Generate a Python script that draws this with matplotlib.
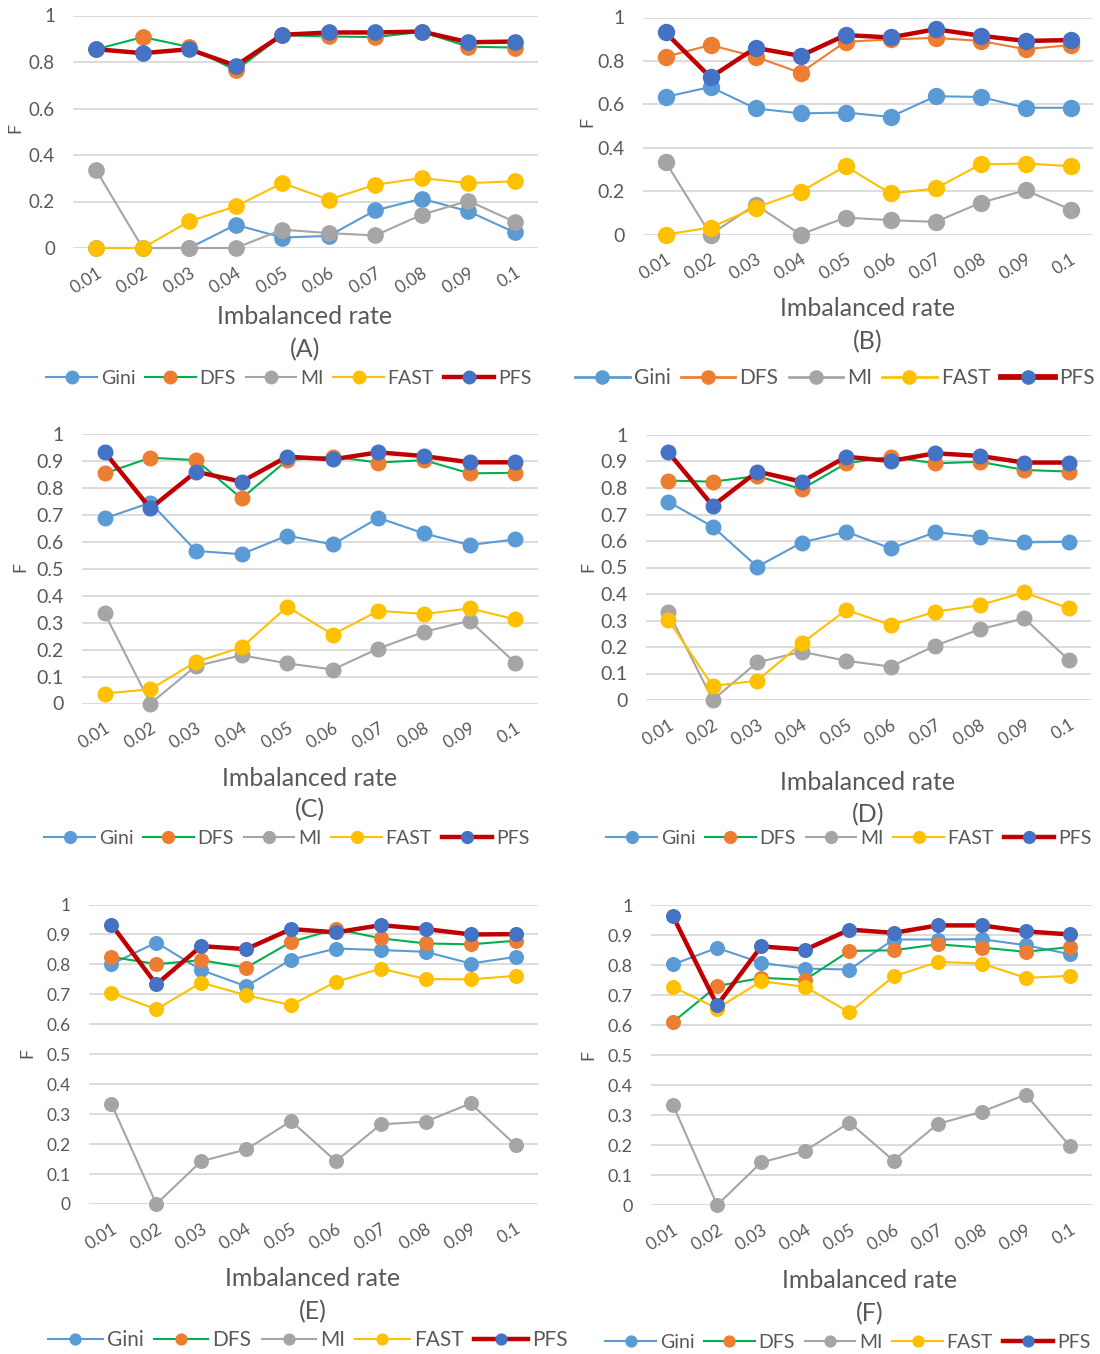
import matplotlib
matplotlib.use('Agg')
import matplotlib.pyplot as plt
from matplotlib.lines import Line2D

plt.rcParams['font.family'] = ['Lato', 'DejaVu Sans']

rates = ['0.01', '0.02', '0.03', '0.04', '0.05', '0.06', '0.07', '0.08', '0.09', '0.1']
methods = ['Gini', 'DFS', 'MI', 'FAST', 'PFS']

# (A)
gini_a = [0, 0, 0, 0.100, 0.045, 0.052, 0.162, 0.212, 0.158, 0.067]
dfs_a = [0.855, 0.907, 0.865, 0.764, 0.915, 0.910, 0.907, 0.930, 0.866, 0.862]
mi_a = [0.334, 0, 0, 0, 0.079, 0.064, 0.054, 0.143, 0.203, 0.112]
fast_a = [0, 0, 0.115, 0.179, 0.279, 0.208, 0.272, 0.301, 0.279, 0.287]
pfs_a = [0.855, 0.838, 0.855, 0.784, 0.917, 0.927, 0.927, 0.931, 0.885, 0.888]

# (B)
gini_b = [0.634, 0.680, 0.581, 0.558, 0.562, 0.542, 0.637, 0.634, 0.584, 0.584]
dfs_b = [0.819, 0.873, 0.819, 0.745, 0.888, 0.899, 0.906, 0.892, 0.854, 0.873]
mi_b = [0.335, 0, 0.138, 0, 0.078, 0.066, 0.058, 0.146, 0.204, 0.115]
fast_b = [0, 0.032, 0.124, 0.197, 0.315, 0.189, 0.212, 0.323, 0.327, 0.315]
pfs_b = [0.931, 0.724, 0.860, 0.823, 0.919, 0.908, 0.946, 0.916, 0.892, 0.896]

# (C)
gini_c = [0.687, 0.745, 0.566, 0.554, 0.623, 0.590, 0.689, 0.631, 0.588, 0.609]
dfs_c = [0.854, 0.912, 0.903, 0.761, 0.903, 0.916, 0.894, 0.903, 0.854, 0.856]
mi_c = [0.334, 0, 0.139, 0.179, 0.149, 0.126, 0.204, 0.266, 0.307, 0.151]
fast_c = [0.037, 0.053, 0.155, 0.208, 0.359, 0.256, 0.344, 0.332, 0.353, 0.312]
pfs_c = [0.932, 0.724, 0.860, 0.823, 0.916, 0.906, 0.932, 0.918, 0.895, 0.895]

# (D)
gini_d = [0.748, 0.654, 0.503, 0.594, 0.635, 0.572, 0.633, 0.616, 0.595, 0.597]
dfs_d = [0.828, 0.824, 0.845, 0.796, 0.893, 0.918, 0.893, 0.899, 0.868, 0.862]
mi_d = [0.333, 0, 0.142, 0.182, 0.148, 0.126, 0.205, 0.267, 0.308, 0.151]
fast_d = [0.302, 0.053, 0.073, 0.214, 0.340, 0.283, 0.333, 0.358, 0.406, 0.346]
pfs_d = [0.935, 0.733, 0.862, 0.824, 0.918, 0.902, 0.931, 0.921, 0.896, 0.896]

# (E)
gini_e = [0.801, 0.873, 0.781, 0.727, 0.816, 0.853, 0.848, 0.842, 0.803, 0.825]
dfs_e = [0.825, 0.801, 0.814, 0.789, 0.875, 0.918, 0.887, 0.870, 0.867, 0.879]
mi_e = [0.334, 0, 0.143, 0.182, 0.277, 0.143, 0.266, 0.275, 0.336, 0.197]
fast_e = [0.705, 0.650, 0.739, 0.697, 0.664, 0.742, 0.786, 0.751, 0.750, 0.762]
pfs_e = [0.933, 0.733, 0.861, 0.851, 0.918, 0.907, 0.931, 0.918, 0.900, 0.901]

# (F)
gini_f = [0.802, 0.857, 0.807, 0.788, 0.785, 0.885, 0.885, 0.886, 0.866, 0.836]
dfs_f = [0.610, 0.730, 0.757, 0.751, 0.847, 0.849, 0.869, 0.858, 0.844, 0.860]
mi_f = [0.333, 0, 0.142, 0.181, 0.275, 0.148, 0.270, 0.311, 0.368, 0.196]
fast_f = [0.727, 0.655, 0.746, 0.727, 0.642, 0.762, 0.810, 0.805, 0.757, 0.764]
pfs_f = [0.962, 0.666, 0.862, 0.851, 0.918, 0.907, 0.932, 0.932, 0.912, 0.902]

TEXT = '#595959'
GRID = '#D9D9D9'
line_colors = {'Gini': '#5B9BD5', 'DFS': '#00B050', 'MI': '#A5A5A5',
               'FAST': '#FFC000', 'PFS': '#C00000'}
marker_colors = {'Gini': '#5B9BD5', 'DFS': '#ED7D31', 'MI': '#A5A5A5',
                 'FAST': '#FFC000', 'PFS': '#4472C4'}
widths = {'Gini': 1.5, 'DFS': 1.5, 'MI': 1.5, 'FAST': 1.5, 'PFS': 3.2}

W, H = 1100, 1354
fig = plt.figure(figsize=(W / 100, H / 100), dpi=100)

# letter, series, box in pixels (left, right, y of 1, y of 0), y step,
# label centre x, xlabel y, letter y, legend centre, F label position,
# marker size, legend font size
panels = [
    ('A', [gini_a, dfs_a, mi_a, fast_a, pfs_a], (73, 538, 15.5, 248), 0.2,
     305, 317, 350, (289, 378), (15, 128), 11, 'DFS_green', 14),
    ('B', [gini_b, dfs_b, mi_b, fast_b, pfs_b], (643, 1093, 17.5, 234.5), 0.2,
     868, 309, 342, (835, 378), (587, 122), 11.5, 'DFS_orange', 15),
    ('C', [gini_c, dfs_c, mi_c, fast_c, pfs_c], (82, 538, 434, 703.5), 0.1,
     310, 778, 810, (287, 838), (20, 567), 10.5, 'DFS_green', 14),
    ('D', [gini_d, dfs_d, mi_d, fast_d, pfs_d], (646, 1091, 435, 700), 0.1,
     868, 783, 815, (849, 838), (588, 567), 10.5, 'DFS_green', 14),
    ('E', [gini_e, dfs_e, mi_e, fast_e, pfs_e], (89, 538, 904.5, 1204), 0.1,
     313, 1279, 1312, (308, 1340), (27, 1053), 9.8, 'DFS_green', 15),
    ('F', [gini_f, dfs_f, mi_f, fast_f, pfs_f], (651, 1092, 905, 1205), 0.1,
     870, 1281, 1314, (848, 1342), (588, 1055), 9.8, 'DFS_green', 14),
]

x = list(range(len(rates)))

for (letter, series, box, step, cx, xl_y, let_y, leg, f_pos, msize,
     dfs_style, leg_size) in panels:
    left, right, top, bottom = box
    ax = fig.add_axes([left / W, 1 - bottom / H, (right - left) / W,
                       (bottom - top) / H])
    handles = []
    for k, (name, vals) in enumerate(zip(methods, series)):
        lc = line_colors[name]
        if name == 'DFS' and dfs_style == 'DFS_orange':
            lc = marker_colors['DFS']
        ax.plot(x, vals, color=lc, lw=widths[name], marker='o',
                markersize=msize, markerfacecolor=marker_colors[name],
                markeredgecolor=marker_colors[name], clip_on=False,
                zorder=3 + k)
        lw_leg = widths[name] * (1.3 if letter == 'B' else 1.0)
        handles.append(Line2D([0], [0], color=lc, lw=lw_leg,
                              marker='o', markersize=msize - 2,
                              markerfacecolor=marker_colors[name],
                              markeredgecolor=marker_colors[name]))

    ax.set_xlim(-0.5, len(rates) - 0.5)
    ax.set_ylim(0, 1)
    n = int(round(1 / step))
    ticks = [round(i * step, 1) for i in range(n + 1)]
    ax.set_yticks(ticks)
    ax.set_yticklabels(['0' if t == 0 else ('1' if t == 1 else f'{t:g}')
                        for t in ticks])
    ax.set_xticks(x)
    ax.set_xticklabels(rates, rotation=32, ha='right', rotation_mode='anchor')
    ax.grid(axis='y', color=GRID, lw=1.3)
    ax.set_axisbelow(True)
    for s in ax.spines.values():
        s.set_visible(False)
    ytick_size = {'A': 13.5, 'B': 14, 'C': 14, 'D': 14,
                  'E': 12.5, 'F': 13}[letter]
    ax.tick_params(axis='y', length=0, pad=13, labelsize=ytick_size,
                   labelcolor=TEXT)
    ax.tick_params(axis='x', length=0, pad=12, labelsize=12.5,
                   labelcolor=TEXT)

    fig.text(cx / W, 1 - xl_y / H, 'Imbalanced rate', ha='center',
             va='center', fontsize=18, color=TEXT)
    fig.text(cx / W, 1 - let_y / H, f'({letter})', ha='center', va='center',
             fontsize=18, color=TEXT)
    fig.text(f_pos[0] / W, 1 - f_pos[1] / H, 'F', ha='center', va='center',
             rotation=90, fontsize=13, color=TEXT)
    lg = fig.legend(handles, methods, loc='center',
                    bbox_to_anchor=(leg[0] / W, 1 - leg[1] / H), ncol=5,
                    frameon=False, fontsize=leg_size, handlelength=2.6,
                    handletextpad=0.2, columnspacing=0.5, borderpad=0)
    for t in lg.get_texts():
        t.set_color(TEXT)

fig.savefig('out.png', dpi=100)
